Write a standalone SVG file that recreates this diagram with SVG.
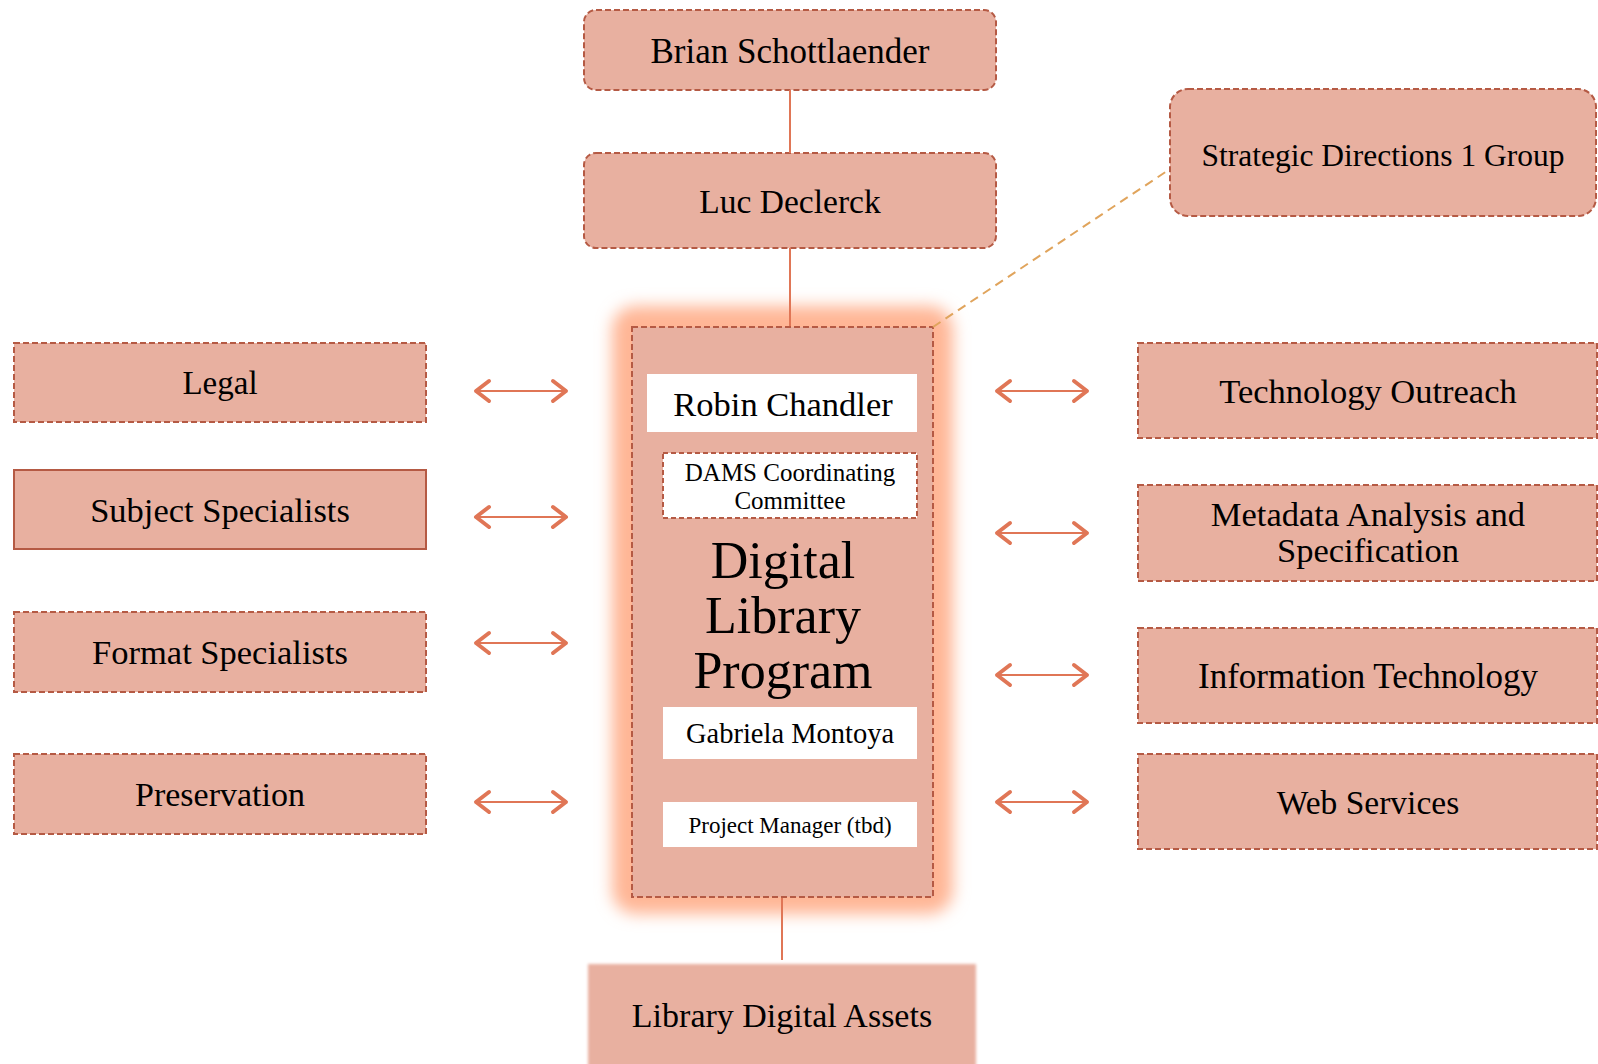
<svg xmlns="http://www.w3.org/2000/svg" width="1598" height="1064" viewBox="0 0 1598 1064">
<defs>
<style>
.box{fill:#e8b0a0;stroke:#b55a44;stroke-width:2;stroke-dasharray:6 3}
.solid{fill:#e8b0a0;stroke:#b55a44;stroke-width:2}
.wb{fill:#ffffff}
.wbd{fill:#ffffff;stroke:#b55a44;stroke-width:2;stroke-dasharray:5 3}
.t{font-family:"Liberation Serif","DejaVu Serif",serif;fill:#000;text-anchor:middle}
.l{stroke:#e07656;stroke-width:2;fill:none}
.ah{stroke:#e07656;stroke-width:4;fill:none;stroke-linecap:round;stroke-linejoin:round}
.as{stroke:#e07656;stroke-width:2;fill:none}
</style>
<filter id="glow" x="-20%" y="-20%" width="140%" height="140%"><feGaussianBlur stdDeviation="8"/></filter>
<filter id="soft" x="-5%" y="-5%" width="110%" height="110%"><feGaussianBlur stdDeviation="1.5"/></filter>
</defs>
<rect width="1598" height="1064" fill="#ffffff"/>

<g id="brian">
<rect class="box" x="584" y="10" width="412" height="80" rx="12"/>
<text class="t" x="790" y="63" font-size="35">Brian Schottlaender</text>
</g>
<g id="luc">
<rect class="box" x="584" y="153" width="412" height="95" rx="12"/>
<text class="t" x="790" y="213" font-size="33.5">Luc Declerck</text>
</g>
<g id="strategic">
<rect class="box" x="1170" y="89" width="426" height="127" rx="18"/>
<text class="t" x="1383" y="166" font-size="31.5">Strategic Directions 1 Group</text>
</g>

<g id="legal">
<rect class="box" x="14" y="343" width="412" height="79"/>
<text class="t" x="220" y="394" font-size="33">Legal</text>
</g>
<g id="subject">
<rect class="solid" x="14" y="470" width="412" height="79"/>
<text class="t" x="220" y="522" font-size="34.5">Subject Specialists</text>
</g>
<g id="format">
<rect class="box" x="14" y="612" width="412" height="80"/>
<text class="t" x="220" y="664" font-size="34.5">Format Specialists</text>
</g>
<g id="preservation">
<rect class="box" x="14" y="754" width="412" height="80"/>
<text class="t" x="220" y="806" font-size="34">Preservation</text>
</g>

<g id="techoutreach">
<rect class="box" x="1138" y="343" width="459" height="95"/>
<text class="t" x="1368" y="403" font-size="34.5">Technology Outreach</text>
</g>
<g id="metadata">
<rect class="box" x="1138" y="485" width="459" height="96"/>
<text class="t" x="1368" y="526" font-size="34.5">Metadata Analysis and</text>
<text class="t" x="1368" y="562" font-size="34.5">Specification</text>
</g>
<g id="infotech">
<rect class="box" x="1138" y="628" width="459" height="95"/>
<text class="t" x="1368" y="688" font-size="35">Information Technology</text>
</g>
<g id="webservices">
<rect class="box" x="1138" y="754" width="459" height="95"/>
<text class="t" x="1368" y="814" font-size="33.5">Web Services</text>
</g>

<g id="dlp">
<rect x="612" y="306" width="341" height="608" rx="24" fill="#ffb695" filter="url(#glow)"/>
<rect class="box" x="632" y="327" width="301" height="570"/>
<rect class="wb" x="647" y="374" width="270" height="58"/>
<text class="t" x="783" y="416" font-size="34.5">Robin Chandler</text>
<rect class="wbd" x="663" y="453" width="254" height="65"/>
<text class="t" x="790" y="481" font-size="25">DAMS Coordinating</text>
<text class="t" x="790" y="509" font-size="25">Committee</text>
<text class="t" x="783" y="578" font-size="52">Digital</text>
<text class="t" x="783" y="633" font-size="52">Library</text>
<text class="t" x="783" y="688" font-size="52">Program</text>
<rect class="wb" x="663" y="707" width="254" height="52"/>
<text class="t" x="790" y="743" font-size="28.5">Gabriela Montoya</text>
<rect class="wb" x="663" y="802" width="254" height="45"/>
<text class="t" x="790" y="833" font-size="23">Project Manager (tbd)</text>
</g>

<g id="assets">
<rect x="588" y="964" width="388" height="110" fill="#e8b0a0" filter="url(#soft)"/>
<text class="t" x="782" y="1027" font-size="34">Library Digital Assets</text>
</g>

<g id="connectors">
<line class="l" x1="790" y1="90" x2="790" y2="153"/>
<line class="l" x1="790" y1="248" x2="790" y2="326"/>
<line class="l" x1="782" y1="898" x2="782" y2="960"/>
<line x1="933" y1="327" x2="1170" y2="169" stroke="#e0a45c" stroke-width="2" stroke-dasharray="9 6"/>
<g id="arrows">
<g transform="translate(0,391)"><line class="as" x1="477" y1="0" x2="565" y2="0"/><polyline class="ah" points="489,-10 476,0 489,10"/><polyline class="ah" points="553,-10 566,0 553,10"/></g>
<g transform="translate(0,517)"><line class="as" x1="477" y1="0" x2="565" y2="0"/><polyline class="ah" points="489,-10 476,0 489,10"/><polyline class="ah" points="553,-10 566,0 553,10"/></g>
<g transform="translate(0,643)"><line class="as" x1="477" y1="0" x2="565" y2="0"/><polyline class="ah" points="489,-10 476,0 489,10"/><polyline class="ah" points="553,-10 566,0 553,10"/></g>
<g transform="translate(0,802)"><line class="as" x1="477" y1="0" x2="565" y2="0"/><polyline class="ah" points="489,-10 476,0 489,10"/><polyline class="ah" points="553,-10 566,0 553,10"/></g>
<g transform="translate(521,0)">
<g transform="translate(0,391)"><line class="as" x1="477" y1="0" x2="565" y2="0"/><polyline class="ah" points="489,-10 476,0 489,10"/><polyline class="ah" points="553,-10 566,0 553,10"/></g>
<g transform="translate(0,533)"><line class="as" x1="477" y1="0" x2="565" y2="0"/><polyline class="ah" points="489,-10 476,0 489,10"/><polyline class="ah" points="553,-10 566,0 553,10"/></g>
<g transform="translate(0,675)"><line class="as" x1="477" y1="0" x2="565" y2="0"/><polyline class="ah" points="489,-10 476,0 489,10"/><polyline class="ah" points="553,-10 566,0 553,10"/></g>
<g transform="translate(0,802)"><line class="as" x1="477" y1="0" x2="565" y2="0"/><polyline class="ah" points="489,-10 476,0 489,10"/><polyline class="ah" points="553,-10 566,0 553,10"/></g>
</g>
</g>
</g>
</svg>
